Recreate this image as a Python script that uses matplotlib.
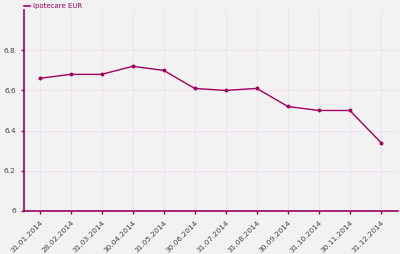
import matplotlib.pyplot as plt

dates = ['31.01.2014', '28.02.2014', '31.03.2014', '30.04.2014', '31.05.2014', '30.06.2014',
         '31.07.2014', '31.08.2014', '30.09.2014', '31.10.2014', '30.11.2014', '31.12.2014']
values = [6.66, 6.68, 6.68, 6.72, 6.70, 6.61, 6.60, 6.61, 6.52, 6.50, 6.50, 6.34]
yticks = [6, 6.2, 6.4, 6.6, 6.8]
ytick_labels = ['6', '6.2', '6.4', '6.6', '6.8']

line_color = '#a0005f'

fig = plt.figure(figsize=(4, 2.54), dpi=100)
fig.patch.set_facecolor('#f2f2f2')
ax = fig.add_axes([0.06, 0.17, 0.935, 0.79])
ax.set_facecolor('#f2f2f2')

x = list(range(len(dates)))
ax.plot(x, values, color=line_color, lw=1.0, marker='o', markersize=1.8)

ax.set_xlim(-0.5, 11.55)
ax.set_ylim(6, 7.0)
ax.set_yticks(yticks)
ax.set_yticklabels(ytick_labels)
ax.set_xticks(x)
ax.set_xticklabels(dates, rotation=45, ha='right', rotation_mode='anchor')

ax.grid(True, color='#f3dcf3', lw=0.6)
ax.set_axisbelow(True)
for s in ['top', 'right']:
    ax.spines[s].set_visible(False)
for s in ['left', 'bottom']:
    ax.spines[s].set_color(line_color)
    ax.spines[s].set_linewidth(1.2)
ax.tick_params(axis='both', colors=line_color, labelcolor='#444444', labelsize=5.3, length=2.5, width=1)

# legend entry drawn by hand at the top left
fig.lines.append(plt.Line2D([0.06, 0.075], [0.976, 0.976], color=line_color, lw=1.2,
                            transform=fig.transFigure))
fig.text(0.082, 0.976, 'Ipotecare EUR', color=line_color, fontsize=5, va='center')

fig.savefig('out.png', dpi=100, facecolor=fig.get_facecolor())
